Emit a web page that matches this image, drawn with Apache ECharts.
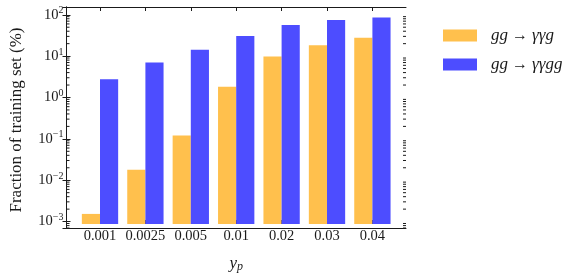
<!DOCTYPE html>
<html><head><meta charset="utf-8">
<script src="https://cdn.jsdelivr.net/npm/echarts@6/dist/echarts.min.js"></script>
<style>html,body{margin:0;padding:0;background:#fff}#c{width:581px;height:278px}</style>
</head><body><div id="c"></div>
<script>
const categories = ['0.001', '0.0025', '0.005', '0.01', '0.02', '0.03', '0.04'];
const seriesNames = ['gg → γγg', 'gg → γγgg'];
const valuesGGg = [0.00124, 0.0151, 0.106, 1.68, 9.25, 17.6, 27.1];
const valuesGGgg = [2.57, 6.63, 13.6, 29.7, 55.7, 73.6, 85.5];
const minorTickValues = [7e-4, 8e-4, 9e-4,
  2e-3, 3e-3, 4e-3, 5e-3, 6e-3, 7e-3, 8e-3, 9e-3,
  2e-2, 3e-2, 4e-2, 5e-2, 6e-2, 7e-2, 8e-2, 9e-2,
  0.2, 0.3, 0.4, 0.5, 0.6, 0.7, 0.8, 0.9,
  2, 3, 4, 5, 6, 7, 8, 9,
  20, 30, 40, 50, 60, 70, 80, 90];
const yMin = 7e-4, yMax = 154;
const colors = ['#FFC04D', '#4D4DFF'];

const FONT = '"Liberation Serif", "DejaVu Serif", serif';
const TXT = '#1a1a1a';

function yLabel(v) {
  const l = Math.log10(v);
  const e = Math.round(l);
  if (Math.abs(l - e) > 1e-6) return '';
  return '{b|10}{s|' + (e < 0 ? '\u2212' + (-e) : e) + '}';
}

function barRenderer(side) {
  return function (params, api) {
    const i = api.value(0), v = api.value(1);
    const top = api.coord([i, v]);
    const base = api.coord([i, yMin]);
    const band = api.size([1, 1])[0];
    const w = band * 0.4;
    const x = side === 0 ? top[0] - w : top[0];
    return {type: 'rect', shape: {x: x, y: top[1], width: w, height: base[1] - top[1]},
            style: api.style()};
  };
}

const chart = echarts.init(document.getElementById('c'), null, {renderer: 'canvas'});
const G = {top: 7, height: 221};
chart.setOption({
  animation: false,
  color: colors,
  textStyle: {fontFamily: FONT},
  grid: [
    {left: 77.3, width: 317.8, top: G.top, height: G.height},
    {left: 66, width: 340, top: G.top, height: G.height}
  ],
  xAxis: [
    {type: 'category', gridIndex: 0, data: categories, position: 'bottom',
     axisLine: {show: false},
     axisTick: {show: true, inside: true, alignWithLabel: true, length: 4, lineStyle: {color: TXT}},
     axisLabel: {color: TXT, fontSize: 14.5, fontFamily: FONT, margin: 5, interval: 0},
     name: '{i|y}{sub|p}', nameLocation: 'middle', nameGap: 30,
     nameTextStyle: {rich: {
       i: {fontFamily: FONT, fontStyle: 'italic', fontSize: 17, color: TXT},
       sub: {fontFamily: FONT, fontStyle: 'italic', fontSize: 12, color: TXT, padding: [7, 0, 0, 0]}
     }}},
    {type: 'category', gridIndex: 0, data: categories, position: 'top',
     axisLine: {show: false},
     axisTick: {show: true, inside: true, alignWithLabel: true, length: 4, lineStyle: {color: TXT}},
     axisLabel: {show: false}},
    {type: 'value', gridIndex: 1, min: 0, max: 1, position: 'bottom', z: 10,
     axisLine: {show: true, lineStyle: {color: TXT, width: 1}},
     axisTick: {show: false}, axisLabel: {show: false}, splitLine: {show: false}},
    {type: 'value', gridIndex: 1, min: 0, max: 1, position: 'top', z: 10,
     axisLine: {show: true, lineStyle: {color: TXT, width: 1}},
     axisTick: {show: false}, axisLabel: {show: false}, splitLine: {show: false}}
  ],
  yAxis: [
    {type: 'log', logBase: 10, gridIndex: 0, min: yMin, max: yMax, show: false},
    {type: 'log', logBase: 10, gridIndex: 1, min: yMin, max: yMax, position: 'left', z: 10,
     axisLine: {show: true, lineStyle: {color: TXT, width: 1}},
     axisTick: {show: true, inside: true, length: 4, lineStyle: {color: TXT}},
     splitLine: {show: false},
     axisLabel: {formatter: yLabel, margin: 3, showMinLabel: false, showMaxLabel: false,
       rich: {
         b: {fontFamily: FONT, fontSize: 14.5, color: TXT},
         s: {fontFamily: FONT, fontSize: 10, color: TXT, padding: [0, 0, 8, 0]}
       }},
     name: 'Fraction of training set (%)', nameLocation: 'middle', nameGap: 41.5,
     nameTextStyle: {fontFamily: FONT, fontSize: 17, color: TXT, padding: [0, 5, 0, 0]}},
    {type: 'log', logBase: 10, gridIndex: 1, min: yMin, max: yMax, position: 'right', z: 10,
     axisLine: {show: true, lineStyle: {color: TXT, width: 1}},
     axisTick: {show: true, inside: true, length: 4, lineStyle: {color: TXT}},
     splitLine: {show: false}, axisLabel: {show: false}}
  ],
  legend: {
    left: 438, top: 22, orient: 'vertical', icon: 'rect',
    itemWidth: 34, itemHeight: 12, itemGap: 12,
    data: seriesNames,
    formatter: n => n.replace(/([^ →]+)/g, '{i|$1}'),
    textStyle: {fontFamily: FONT, fontSize: 16, color: TXT, lineHeight: 12, padding: [0, 0, 0, 9],
      rich: {i: {fontFamily: FONT, fontStyle: 'italic', fontSize: 17, color: TXT, lineHeight: 12}}}
  },
  series: [
    {name: seriesNames[0], type: 'custom', xAxisIndex: 0, yAxisIndex: 0,
     data: valuesGGg.map((v, i) => [i, v]), encode: {x: 0, y: 1},
     itemStyle: {color: colors[0]}, renderItem: barRenderer(0)},
    {name: seriesNames[1], type: 'custom', xAxisIndex: 0, yAxisIndex: 0,
     data: valuesGGgg.map((v, i) => [i, v]), encode: {x: 0, y: 1},
     itemStyle: {color: colors[1]}, renderItem: barRenderer(1)},
    {type: 'custom', xAxisIndex: 2, yAxisIndex: 1, z: 10, silent: true, clip: false,
     data: minorTickValues.map(v => [0.5, v]), encode: {x: 0, y: 1},
     renderItem: function (params, api) {
       const v = api.value(1);
       const p0 = api.coord([0, v]);
       const p1 = api.coord([1, v]);
       const st = {stroke: TXT, lineWidth: 1};
       return {type: 'group', children: [
         {type: 'line', shape: {x1: p0[0], y1: p0[1], x2: p0[0] + 3, y2: p0[1]}, style: st},
         {type: 'line', shape: {x1: p1[0] - 3, y1: p1[1], x2: p1[0], y2: p1[1]}, style: st}
       ]};
     }}
  ]
});
</script></body></html>
